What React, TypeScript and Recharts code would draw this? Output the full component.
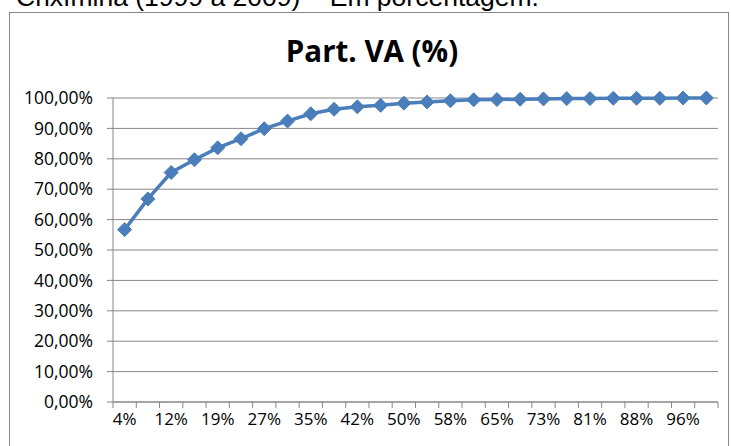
import React from 'react'
import { LineChart, Line, XAxis, YAxis, CartesianGrid } from 'recharts'

// Share of municipalities (cumulative) on the category axis
const shares = [
  '4%', '8%', '12%', '15%', '19%', '23%', '27%', '31%', '35%', '38%', '42%', '46%', '50%',
  '54%', '58%', '62%', '65%', '69%', '73%', '77%', '81%', '85%', '88%', '92%', '96%', '100%',
]

// Cumulative participation in value added (%)
const partVA = [
  56.7, 66.8, 75.5, 79.7, 83.6, 86.6, 89.9, 92.4, 94.8, 96.3, 97.1, 97.6, 98.3,
  98.7, 99.1, 99.4, 99.5, 99.6, 99.7, 99.8, 99.8, 99.9, 99.9, 99.9, 100, 100,
]

const yTicks = [0, 10, 20, 30, 40, 50, 60, 70, 80, 90, 100]

const BLUE = '#4A7EBB'
const GRID = '#878787'
const FONT = '"Open Sans", sans-serif'

// each category sits in the middle of its slot: slot edges get tick marks,
// every other slot centre gets a label
const data = partVA.map((v, i) => ({ pos: i + 0.5, share: shares[i], value: v }))
const xTicks: number[] = []
for (let i = 0; i <= shares.length; i++) {
  xTicks.push(i)
  if (i < shares.length && i % 2 === 0) xTicks.push(i + 0.5)
}

const fmtPct = (v: number) => `${v.toFixed(2).replace('.', ',')}%`

const XTick = ({ x, y, payload }: any) => {
  const v = payload.value
  if (Number.isInteger(v)) {
    return <line x1={x} x2={x} y1={y} y2={y + 6} stroke={GRID} strokeWidth={1} />
  }
  return (
    <text x={x} y={y + 23} textAnchor="middle" fill="#000" fontSize={17} fontFamily={FONT}>
      {shares[Math.floor(v)]}
    </text>
  )
}

const Diamond = ({ cx, cy }: any) => {
  if (cx == null || cy == null) return null
  const r = 7
  return (
    <polygon
      points={`${cx},${cy - r} ${cx + r},${cy} ${cx},${cy + r} ${cx - r},${cy}`}
      fill={BLUE}
      stroke={BLUE}
      strokeWidth={1}
    />
  )
}

export default function App() {
  return (
    <div
      style={{
        position: 'absolute',
        left: 0,
        top: 0,
        width: 731,
        height: 446,
        background: '#fff',
        overflow: 'hidden',
      }}
    >
      <svg width={731} height={446} style={{ position: 'absolute', left: 0, top: 0 }}>
        <text x={16} y={6} fontSize={26.5} fontFamily='"Liberation Sans", Arial, sans-serif' fill="#000">
          Crixímina (1999 a 2009) – Em porcentagem.
        </text>
        <rect x={9.5} y={12.5} width={719} height={460} fill="#fff" stroke={GRID} strokeWidth={1} />
        <text
          x={372}
          y={62}
          textAnchor="middle"
          fontSize={29.5}
          fontWeight={700}
          fontFamily={FONT}
          fill="#000"
        >
          Part. VA (%)
        </text>
      </svg>
      <div style={{ position: 'absolute', left: 0, top: 0 }}>
        <LineChart
          width={731}
          height={446}
          data={data}
          margin={{ top: 98, right: 13, bottom: 14, left: 13 }}
        >
          <CartesianGrid vertical={false} stroke={GRID} strokeWidth={1} />
          <XAxis
            dataKey="pos"
            type="number"
            domain={[0, shares.length]}
            ticks={xTicks}
            interval={0}
            allowDecimals
            height={30}
            tickSize={0}
            tickMargin={0}
            tickLine={false}
            axisLine={{ stroke: GRID, strokeWidth: 1 }}
            tick={<XTick />}
          />
          <YAxis
            type="number"
            domain={[0, 100]}
            ticks={yTicks}
            interval={0}
            width={100}
            tickSize={6}
            tickMargin={14}
            tickLine={{ stroke: GRID }}
            axisLine={{ stroke: GRID, strokeWidth: 1 }}
            tickFormatter={fmtPct}
            tick={{ fill: '#000', fontSize: 17.5, fontFamily: FONT }}
          />
          <Line
            type="linear"
            dataKey="value"
            stroke={BLUE}
            strokeWidth={3.5}
            dot={<Diamond />}
            activeDot={false}
            isAnimationActive={false}
          />
        </LineChart>
      </div>
    </div>
  )
}
